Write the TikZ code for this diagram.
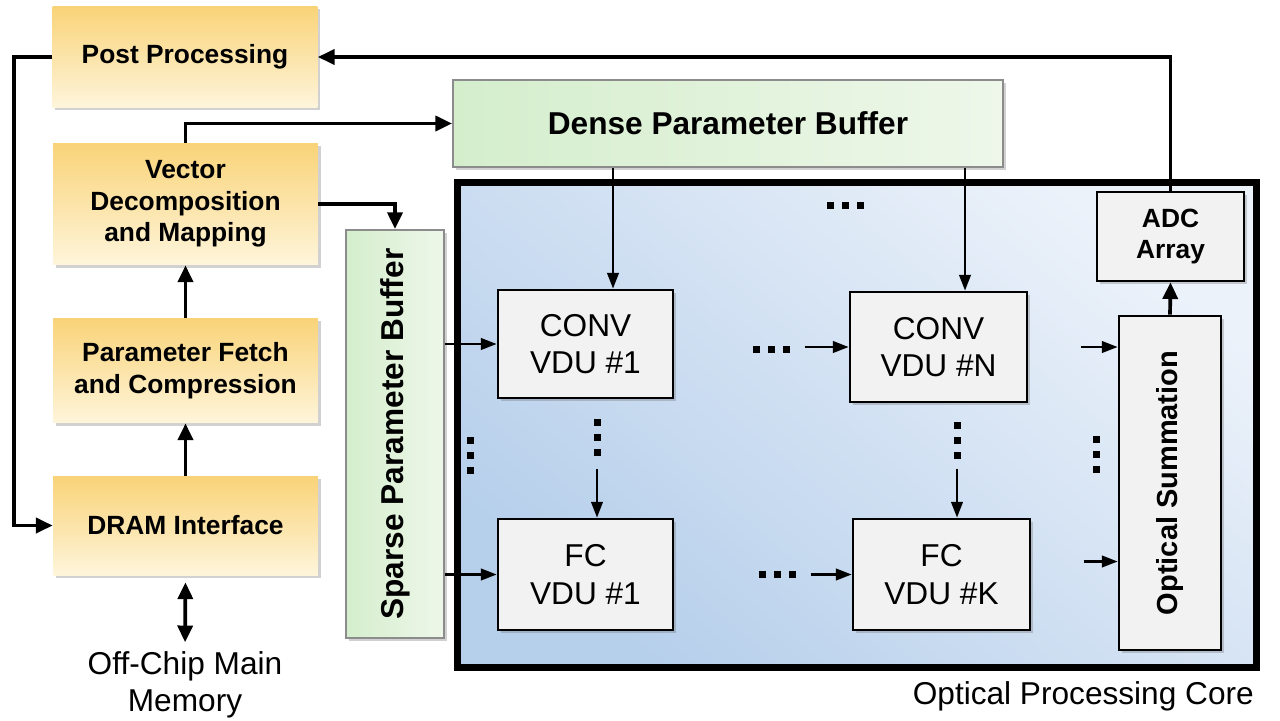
\documentclass[tikz,border=0pt]{standalone}
\usepackage{fontspec}
\setmainfont{Liberation Sans}
\usetikzlibrary{arrows.meta, calc, shadows}
\definecolor{ylwtop}{RGB}{249,211,120}
\definecolor{ylwbot}{RGB}{254,245,219}
\definecolor{grnleft}{RGB}{212,238,204}
\definecolor{grnright}{RGB}{238,247,234}
\definecolor{coredark}{RGB}{182,207,235}
\definecolor{corelight}{RGB}{236,242,250}
\definecolor{vdugray}{RGB}{242,242,242}
\newcommand{\hdts}[2]{\foreach \k in {-1,0,1} \fill (#1+15*\k-3.5,#2-3.5) rectangle ++(7,7);}
\newcommand{\vdts}[2]{\foreach \k in {-1,0,1} \fill (#1-3.5,#2+15*\k-3.5) rectangle ++(7,7);}

\begin{document}
\begin{tikzpicture}[x=0.02cm, y=-0.02cm, >={Triangle[length=9.5pt,width=8.5pt]},
  shdw/.style={drop shadow={shadow xshift=1.5pt, shadow yshift=-1.5pt, opacity=0.3, fill=black!60}},
  ylwbox/.style={rectangle, top color=ylwtop, bottom color=ylwbot, shdw, align=center,
    minimum width=5.3cm, font=\fontsize{15}{18}\selectfont\bfseries},
  grnbox/.style={rectangle, left color=grnleft, right color=grnright, draw=black!45, line width=1.1pt,
    shdw, align=center, font=\fontsize{18}{21}\selectfont\bfseries},
  vdubox/.style={rectangle, fill=vdugray, draw=black, line width=1.5pt, shdw, align=center,
    font=\fontsize{18}{21.5}\selectfont},
  sumbox/.style={vdubox, font=\fontsize{15}{18}\selectfont\bfseries},
  bigarr/.style={line width=2.1pt, ->},
  smallarr/.style={line width=1.5pt, -{Triangle[length=9pt,width=6.5pt]}},
  plain/.style={font=\fontsize{18}{21}\selectfont, align=center}]
\useasboundingbox (0,0) rectangle (1280,720);

% optical core
\node[rectangle, draw=black, line width=4pt, top color=corelight, bottom color=coredark,
  shading angle=-40, shdw, minimum width=16cm, minimum height=9.72cm] (core) at (857,425) {};
\node[plain, anchor=east] (corelbl) at (1260,696) {Optical Processing Core};

% control path
\node[ylwbox, minimum height=2.02cm] (post) at (185,57) {Post Processing};
\node[ylwbox, minimum height=2.44cm] (vdm) at (185.5,204) {Vector\\Decomposition\\and Mapping};
\node[ylwbox, minimum height=2.1cm] (pfc) at (185.5,370.5) {Parameter Fetch\\and Compression};
\node[ylwbox, minimum height=1.98cm] (dram) at (185.5,525.5) {DRAM Interface};
\node[plain, anchor=north, inner sep=0pt] (mem) at (185,651) {Off-Chip Main\\Memory};

% buffers
\node[grnbox, minimum width=11cm, minimum height=1.74cm] (dense) at (728,123.5) {Dense Parameter Buffer};
\node[grnbox, minimum width=1.96cm, minimum height=8.16cm] (sparse) at (395,434) {\rotatebox{90}{Sparse Parameter Buffer}};

% vdu units
\node[vdubox, minimum width=3.5cm, minimum height=2.16cm] (conv1) at (585.5,344) {CONV\\VDU \#1};
\node[vdubox, minimum width=3.54cm, minimum height=2.2cm] (convn) at (938.5,347) {CONV\\VDU \#N};
\node[vdubox, minimum width=3.5cm, minimum height=2.22cm] (fc1) at (585.5,574.5) {FC\\VDU \#1};
\node[vdubox, minimum width=3.54cm, minimum height=2.22cm] (fck) at (941.5,574.5) {FC\\VDU \#K};
\node[sumbox, minimum width=2.94cm, minimum height=1.78cm] (adc) at (1170.5,236.5) {ADC\\Array};
\node[sumbox, minimum width=2.04cm, minimum height=6.68cm, font=\fontsize{16.5}{20}\selectfont\bfseries]
  (osum) at (1170,483) {\rotatebox{90}{Optical Summation}};

% outer connectors
\draw[bigarr] (post.west) -- ++(-38,0) |- (dram.west);
\draw[bigarr] (dram.north) -- (pfc.south);
\draw[bigarr] (pfc.north) -- (vdm.south);
\draw[bigarr, <->, shorten <=4pt, shorten >=5pt] (dram.south) -- (mem.north);
\draw[bigarr] (vdm.north) |- (dense.west);
\draw[bigarr] (vdm.east) -| (sparse.north);
\draw[bigarr] (adc.north) |- (post.east);
\draw[bigarr] (osum.north) -- (adc.south);

% inner connectors
\path (conv1.north) ++(27.5,0) coordinate (c1top);
\path (convn.north) ++(26.5,0) coordinate (cntop);
\draw[smallarr] (dense.south -| c1top) -- (c1top);
\draw[smallarr] (dense.south -| cntop) -- (cntop);
\draw[smallarr] (sparse.east |- conv1.west) -- (conv1.west);
\draw[smallarr] (sparse.east |- fc1.west) -- (fc1.west);
\draw[smallarr] (convn.west) ++(-44,0) -- (convn.west);
\draw[smallarr] (fck.west) ++(-41,0) -- (fck.west);
\path (conv1.south) ++(11.5,0) coordinate (c1bot);
\path (convn.south) ++(18.5,0) coordinate (cnbot);
\draw[smallarr] (fc1.north -| c1bot) ++(0,-49) -- (fc1.north -| c1bot);
\draw[smallarr] (fck.north -| cnbot) ++(0,-49) -- (fck.north -| cnbot);
\draw[smallarr] (osum.west |- convn.west) ++(-37,0) -- (osum.west |- convn.west);
\draw[smallarr] (osum.west |- fck.west) ++(-34,-13) -- ++(34,0);

% dots
\hdts{845}{205}
\hdts{771}{349}
\hdts{777}{574}
\vdts{597}{437}
\vdts{957}{440}
\vdts{470}{455}
\vdts{1096}{454}
\end{tikzpicture}
\end{document}
